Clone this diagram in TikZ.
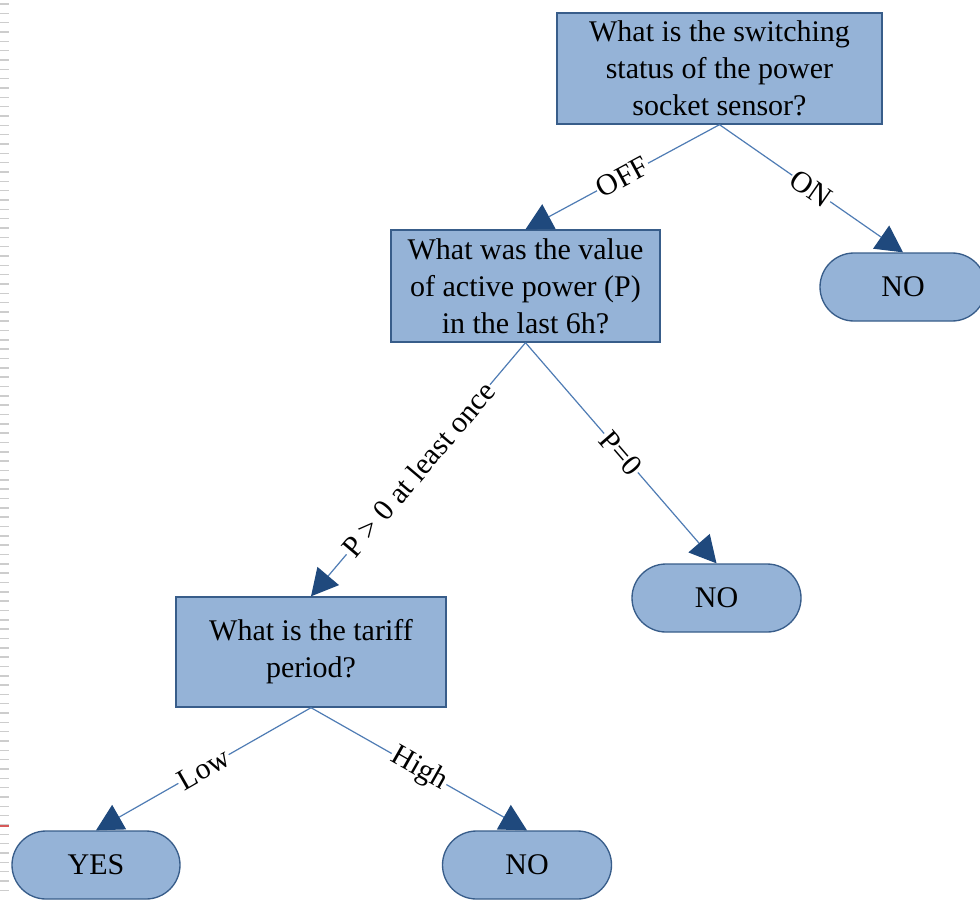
\documentclass[tikz,border=0pt]{standalone}
\usepackage{fontspec}
\setmainfont{Liberation Serif}
\usetikzlibrary{arrows.meta}
\definecolor{boxfill}{RGB}{149,179,215}
\definecolor{boxline}{RGB}{56,93,138}
\definecolor{edgeblue}{RGB}{79,124,180}
\definecolor{tipblue}{RGB}{31,73,125}
\definecolor{rulergray}{RGB}{205,205,205}
\definecolor{rulerred}{RGB}{215,90,90}
\begin{document}
\begin{tikzpicture}[x=0.75pt,y=-0.75pt,
  txt/.style={font=\fontsize{22.5}{27.8}\selectfont},
  qbox/.style={txt, draw=boxline, fill=boxfill, line width=1pt, align=center, inner sep=0pt},
  leaf/.style={txt, draw=boxline, fill=boxfill, line width=1pt, inner sep=0pt,
    rounded corners=25.5pt, minimum height=51pt},
  edge/.style={draw=edgeblue, line width=0.9pt,
    -{Triangle[length=20pt,width=21pt,color=tipblue,fill=tipblue]}},
  lbl/.style={txt, midway, sloped, fill=white, inner sep=1pt}
]
\clip (0,0) rectangle (980,899);
\fill[white] (0,0) rectangle (980,899);
% screenshot ruler on the left edge
\foreach \k in {0,...,95} {
  \draw[rulergray, line width=1.1pt] (0,{4+9.33*\k}) -- (9,{4+9.33*\k});
}
\draw[rulerred, line width=1.1pt] (0,826) -- (9,826);

% nodes
\node[qbox, minimum width=243.75pt, minimum height=83.25pt] (q1) at (719.5,68.5)
  {What is the switching\\status of the power\\socket sensor?};
\node[qbox, minimum width=201.75pt, minimum height=84pt] (q2) at (525.5,286)
  {What was the value\\of active power (P)\\in the last 6h?};
\node[qbox, minimum width=202.5pt, minimum height=82.5pt] (q3) at (311,652)
  {What is the tariff\\period?};
\node[leaf, minimum width=124.5pt] (no1) at (903,287) {NO};
\node[leaf, minimum width=126.75pt] (no2) at (716.5,598) {NO};
\node[leaf, minimum width=126pt] (yes) at (96,865) {YES};
\node[leaf, minimum width=126.75pt] (no3) at (527,865) {NO};

% connectors
\draw[edge] (q1.south) -- node[lbl]{OFF} (q2.north);
\draw[edge] (q1.south) -- node[lbl]{ON} (no1.north);
\draw[edge] (q2.south) -- node[lbl]{P > 0 at least once} (q3.north);
\draw[edge] (q2.south) -- node[lbl]{P=0} (no2.north);
\draw[edge] (q3.south) -- node[lbl]{Low} (yes.north);
\draw[edge] (q3.south) -- node[lbl]{High} (no3.north);
\end{tikzpicture}
\end{document}
